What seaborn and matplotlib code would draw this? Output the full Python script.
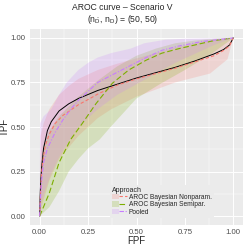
import numpy as np
import pandas as pd
import matplotlib
matplotlib.use("Agg")
import matplotlib.pyplot as plt
import seaborn as sns
from matplotlib.lines import Line2D
from matplotlib.patches import Patch
from matplotlib.legend_handler import HandlerTuple

# true AROC (black)
true_fpf = [0, 0.002, 0.005, 0.01, 0.02, 0.04, 0.06, 0.1, 0.15, 0.2, 0.3, 0.4, 0.5, 0.6, 0.7, 0.8, 0.9, 0.95, 0.98, 1.0]
true_tpf = [0, 0.10, 0.19, 0.27, 0.38, 0.48, 0.53, 0.59, 0.63, 0.66, 0.705, 0.74, 0.775, 0.805, 0.835, 0.87, 0.91, 0.935, 0.96, 1.0]

# Bayesian nonparametric estimate + band
np_fpf = [0, 0.005, 0.01, 0.02, 0.03, 0.05, 0.08, 0.12, 0.16, 0.2, 0.26, 0.3, 0.4, 0.5, 0.6, 0.7, 0.8, 0.9, 0.95, 0.98, 1.0]
np_tpf = [0, 0.15, 0.25, 0.34, 0.40, 0.46, 0.52, 0.565, 0.595, 0.625, 0.66, 0.685, 0.735, 0.77, 0.80, 0.83, 0.865, 0.9, 0.93, 0.955, 1.0]
np_up_fpf = [0, 0.005, 0.02, 0.05, 0.1, 0.15, 0.2, 0.3, 0.4, 0.5, 0.6, 0.7, 0.8, 0.9, 1.0]
np_up_tpf = [0, 0.45, 0.52, 0.6, 0.68, 0.73, 0.77, 0.82, 0.855, 0.885, 0.915, 0.945, 0.97, 0.99, 1.0]
np_lo_fpf = [0, 0.01, 0.05, 0.1, 0.2, 0.3, 0.37, 0.5, 0.7, 0.88, 0.97, 1.0]
np_lo_tpf = [0, 0.05, 0.2, 0.32, 0.45, 0.55, 0.6, 0.67, 0.75, 0.80, 0.88, 1.0]

# Bayesian semiparametric estimate + band
sp_fpf = [0, 0.05, 0.1, 0.16, 0.22, 0.29, 0.375, 0.46, 0.55, 0.63, 0.72, 0.8, 0.9, 1.0]
sp_tpf = [0, 0.13, 0.3, 0.43, 0.52, 0.63, 0.745, 0.82, 0.875, 0.914, 0.94, 0.96, 0.985, 1.0]
sp_up_fpf = [0, 0.005, 0.02, 0.05, 0.1, 0.2, 0.3, 0.4, 0.5, 0.6, 0.7, 0.8, 0.9, 1.0]
sp_up_tpf = [0, 0.3, 0.4, 0.48, 0.56, 0.67, 0.76, 0.84, 0.9, 0.94, 0.97, 0.985, 0.995, 1.0]
sp_lo_fpf = [0, 0.05, 0.1, 0.15, 0.2, 0.25, 0.31, 0.366, 0.45, 0.5, 0.62, 0.75, 0.9, 1.0]
sp_lo_tpf = [0, 0.05, 0.14, 0.25, 0.32, 0.38, 0.43, 0.5, 0.6, 0.66, 0.74, 0.82, 0.92, 1.0]

# pooled estimate + band
po_fpf = [0, 0.005, 0.01, 0.02, 0.04, 0.08, 0.12, 0.16, 0.2, 0.25, 0.3, 0.37, 0.46, 0.55, 0.63, 0.72, 0.84, 0.92, 1.0]
po_tpf = [0, 0.12, 0.2, 0.3, 0.38, 0.47, 0.54, 0.6, 0.65, 0.7, 0.75, 0.79, 0.84, 0.89, 0.93, 0.955, 0.98, 0.99, 1.0]
po_up_fpf = [0, 0.002, 0.02, 0.06, 0.1, 0.14, 0.2, 0.25, 0.3, 0.37, 0.47, 0.54, 0.65, 0.75, 1.0]
po_up_tpf = [0, 0.52, 0.56, 0.6, 0.68, 0.75, 0.82, 0.86, 0.89, 0.915, 0.94, 0.97, 0.99, 0.995, 1.0]
po_lo_fpf = [0, 0.01, 0.03, 0.06, 0.1, 0.15, 0.2, 0.3, 0.4, 0.5, 0.6, 0.7, 0.8, 0.9, 1.0]
po_lo_tpf = [0, 0.08, 0.15, 0.24, 0.33, 0.42, 0.5, 0.6, 0.68, 0.74, 0.8, 0.86, 0.91, 0.96, 1.0]

approaches = ["AROC Bayesian Nonparam.", "AROC Bayesian Semipar.", "Pooled"]
colors = ["#F8766D", "#7CAE00", "#C77CFF"]
dashes = [(3, 2), (5, 2.5), (4, 1.5, 1, 1.5)]

est = pd.concat([
    pd.DataFrame({"FPF": np_fpf, "TPF": np_tpf, "Approach": approaches[0]}),
    pd.DataFrame({"FPF": sp_fpf, "TPF": sp_tpf, "Approach": approaches[1]}),
    pd.DataFrame({"FPF": po_fpf, "TPF": po_tpf, "Approach": approaches[2]}),
])
bands = [
    (np_lo_fpf, np_lo_tpf, np_up_fpf, np_up_tpf),
    (sp_lo_fpf, sp_lo_tpf, sp_up_fpf, sp_up_tpf),
    (po_lo_fpf, po_lo_tpf, po_up_fpf, po_up_tpf),
]

sns.set_theme(style="darkgrid", rc={
    "axes.facecolor": "#EBEBEB",
    "grid.color": "white",
    "axes.edgecolor": "#EBEBEB",
})
plt.rcParams["font.family"] = ["Liberation Sans", "DejaVu Sans"]
plt.rcParams["mathtext.default"] = "regular"

fig = plt.figure(figsize=(2.45, 2.45), dpi=100)
ax = fig.add_axes([30 / 245, 20 / 245, 213 / 245, 196 / 245])

# ribbons
for (lx, ly, ux, uy), c in zip(bands, colors):
    px = list(ux) + list(lx)[::-1]
    py = list(uy) + list(ly)[::-1]
    ax.fill(px, py, color=c, alpha=0.2, lw=0)

ax.plot(true_fpf, true_tpf, color="black", lw=0.7, zorder=3)
sns.lineplot(data=est, x="FPF", y="TPF", hue="Approach", style="Approach",
             palette=colors, dashes=dashes, lw=0.8, sort=False,
             estimator=None, legend=False, ax=ax, zorder=4)

ax.set_xlim(-0.05, 1.05)
ax.set_ylim(-0.05, 1.05)
ticks = [0, 0.25, 0.5, 0.75, 1.0]
ax.set_xticks(ticks)
ax.set_yticks(ticks)
ax.set_xticklabels(["0.00", "0.25", "0.50", "0.75", "1.00"])
ax.set_yticklabels(["0.00", "0.25", "0.50", "0.75", "1.00"])
ax.set_xticks([0.125, 0.375, 0.625, 0.875], minor=True)
ax.set_yticks([0.125, 0.375, 0.625, 0.875], minor=True)
ax.grid(True, which="major", color="white", lw=0.7)
ax.grid(True, which="minor", color="white", lw=0.35)
ax.tick_params(axis="both", which="major", length=2, width=0.5, color="#333333",
               labelsize=5.6, labelcolor="#4D4D4D", pad=1)
ax.tick_params(axis="both", which="minor", length=0)
ax.set_xlabel("FPF", fontsize=7, labelpad=0)
ax.set_ylabel("TPF", fontsize=7, labelpad=1)
for s in ax.spines.values():
    s.set_visible(False)

fig.text(0.5, 1 - 7 / 245, "AROC curve \u2013 Scenario V", ha="center", va="center", fontsize=6.2)
fig.text(0.5, 1 - 19 / 245, r"$(n_{\bar{D}},\, n_{D})$ = (50, 50)", ha="center", va="center", fontsize=6.2)

handles = []
for c, d in zip(colors, dashes):
    handles.append((Patch(facecolor=c, alpha=0.2, lw=0),
                    Line2D([0], [0], color=c, lw=0.8, dashes=d)))
leg = ax.legend(handles, approaches, title="Approach", loc="lower left",
                bbox_to_anchor=(0.36, 0.02), fontsize=4.8, title_fontsize=5,
                handler_map={tuple: HandlerTuple(ndivide=None, pad=0)},
                handlelength=2.2, handleheight=0.9, handletextpad=0.3,
                labelspacing=0.05, borderpad=0.3, frameon=True, fancybox=False,
                framealpha=1, edgecolor="white", alignment="left")
leg.get_frame().set_linewidth(0)

fig.savefig("out.png", dpi=100)
